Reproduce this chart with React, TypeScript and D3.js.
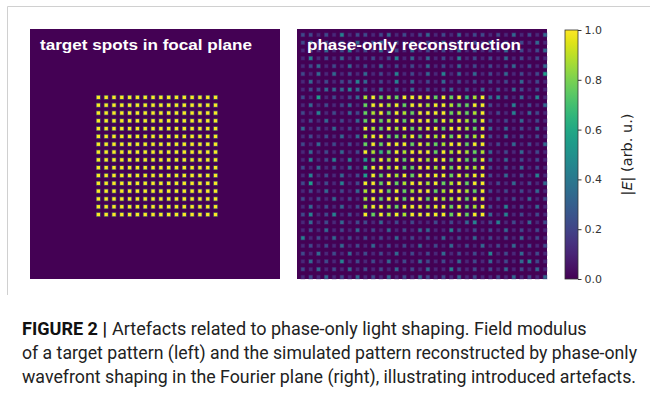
import { useEffect, useRef } from "react";
import * as d3 from "d3";

// 64x64 pixel field, spots sit on every other pixel -> 32x32 spot grid
const pixelCount = 64;

// target pattern: 16x16 spots of |E| = 1 in the centre of the spot grid
const targetSpots = [8, 9, 10, 11, 12, 13, 14, 15, 16, 17, 18, 19, 20, 21, 22, 23];
const targetValue = 1.0;

// phase-only reconstruction, |E| per spot in ninths (0..9 -> 0..1)
const reconLevels = [
  "22121412" + "21231212" + "31213122" + "12131213",
  "23121213" + "12312121" + "21312121" + "31212131",
  "12131241" + "21312131" + "21213121" + "21312123",
  "14121312" + "12124131" + "31214121" + "21312121",
  "12312131" + "21312121" + "31213121" + "21231213",
  "21313121" + "31214121" + "31413131" + "21312125",
  "13121224" + "31214131" + "21312121" + "21213121",
  "12233343" + "21312131" + "21231213" + "12132121",
  "21512123" + "89787999" + "97979689" + "34213141",
  "13121231" + "79989799" + "89987799" + "21141213",
  "21412132" + "78979879" + "99978789" + "12141321",
  "12131213" + "79789799" + "97989879" + "21213121",
  "31213121" + "98798978" + "99799879" + "31312131",
  "12121313" + "89977897" + "98979789" + "21312121",
  "21312121" + "79799979" + "87899799" + "12131213",
  "13121312" + "98679899" + "97989878" + "31213121",
  "14124141" + "57989799" + "89979779" + "31312121",
  "21312131" + "69989779" + "98979889" + "21213121",
  "14121312" + "59798979" + "99979899" + "21312141",
  "25121412" + "99797899" + "89789799" + "12131213",
  "12131213" + "89979789" + "97899879" + "21212131",
  "21213121" + "89799799" + "79889799" + "12121312",
  "13121312" + "89987999" + "89979789" + "21412131",
  "24124121" + "97989899" + "99979799" + "31412121",
  "13121312" + "21312121" + "12121341" + "24121312",
  "12131213" + "12131213" + "31142121" + "21312121",
  "41213121" + "21213121" + "21312131" + "21213121",
  "12121312" + "13121213" + "12131213" + "12131212",
  "21312131" + "21213121" + "21312121" + "41213121",
  "13121412" + "12131213" + "21213121" + "31213421",
  "21312131" + "21213121" + "31142121" + "21312131",
  "12131213" + "12131213" + "21213121" + "12131213",
];

const colorbarTicks = [0, 0.2, 0.4, 0.6, 0.8, 1.0];

const panelTitles = ["target spots in focal plane", "phase-only reconstruction"];

const captionLead = "FIGURE 2 |";
const captionLines = [
  "Artefacts related to phase-only light shaping. Field modulus",
  "of a target pattern (left) and the simulated pattern reconstructed by phase-only",
  "wavefront shaping in the Fourier plane (right), illustrating introduced artefacts.",
];

export default function App() {
  const svgRef = useRef(null);

  useEffect(() => {
    const svg = d3.select(svgRef.current);
    svg.selectAll("*").remove();

    const width = 650;
    const height = 400;
    svg.attr("width", width).attr("height", height);

    svg.append("rect").attr("width", width).attr("height", height).attr("fill", "white");

    // figure frame
    svg
      .append("path")
      .attr("d", "M7.5,295 L7.5,6.5 L650,6.5")
      .attr("fill", "none")
      .attr("stroke", "#d0d0d0")
      .attr("stroke-width", 1);

    const panelSize = 250;
    const panels = [
      { x0: 30, y0: 29, titleW: 212 },
      { x0: 297, y0: 29, titleW: 214 },
    ];

    const color = (v) => d3.interpolateViridis(Math.max(0, Math.min(1, v)));

    const drawPanel = (p, spots, title) => {
      const x = d3.scaleLinear().domain([0, pixelCount]).range([p.x0, p.x0 + panelSize]);
      const y = d3.scaleLinear().domain([0, pixelCount]).range([p.y0, p.y0 + panelSize]);
      const px = x(1) - x(0);

      const g = svg.append("g");
      g.append("rect")
        .attr("x", p.x0)
        .attr("y", p.y0)
        .attr("width", panelSize)
        .attr("height", panelSize)
        .attr("fill", color(0));

      const s = px * 0.85;
      // soft edge (image interpolation)
      g.selectAll("rect.halo")
        .data(spots)
        .enter()
        .append("rect")
        .attr("class", "halo")
        .attr("x", (d) => x(2 * d.i + 1.5) - px * 0.6)
        .attr("y", (d) => y(2 * d.j + 1.5) - px * 0.6)
        .attr("width", px * 1.2)
        .attr("height", px * 1.2)
        .attr("fill", (d) => color(d.v * 0.7))
        .attr("opacity", 0.45);

      g.selectAll("rect.spot")
        .data(spots)
        .enter()
        .append("rect")
        .attr("class", "spot")
        .attr("x", (d) => x(2 * d.i + 1.5) - s / 2)
        .attr("y", (d) => y(2 * d.j + 1.5) - s / 2)
        .attr("width", s)
        .attr("height", s)
        .attr("fill", (d) => color(d.v));

      g.append("text")
        .attr("x", p.x0 + 10)
        .attr("y", p.y0 + 20.5)
        .attr("fill", "white")
        .attr("font-family", "Liberation Sans, Arial, sans-serif")
        .attr("font-weight", "bold")
        .attr("font-size", 15.5)
        .attr("textLength", p.titleW)
        .attr("lengthAdjust", "spacingAndGlyphs")
        .text(title);
    };

    const targetData = [];
    targetSpots.forEach((j) =>
      targetSpots.forEach((i) => targetData.push({ i, j, v: targetValue }))
    );
    const reconData = [];
    reconLevels.forEach((row, j) =>
      row.split("").forEach((c, i) => {
        const v = +c / 9;
        if (v > 0) reconData.push({ i, j, v });
      })
    );

    drawPanel(panels[0], targetData, panelTitles[0]);
    drawPanel(panels[1], reconData, panelTitles[1]);

    // colorbar
    const cb = { x: 565, y0: 30, y1: 279, w: 13 };
    const defs = svg.append("defs");
    const grad = defs
      .append("linearGradient")
      .attr("id", "viridis")
      .attr("x1", 0)
      .attr("y1", 1)
      .attr("x2", 0)
      .attr("y2", 0);
    d3.range(0, 1.0001, 0.05).forEach((t) => {
      grad.append("stop").attr("offset", t).attr("stop-color", d3.interpolateViridis(t));
    });
    svg
      .append("rect")
      .attr("x", cb.x)
      .attr("y", cb.y0)
      .attr("width", cb.w)
      .attr("height", cb.y1 - cb.y0)
      .attr("fill", "url(#viridis)")
      .attr("stroke", "#333")
      .attr("stroke-width", 0.8);

    const cbScale = d3.scaleLinear().domain([0, 1]).range([cb.y1, cb.y0]);
    const cbAxis = d3
      .axisRight(cbScale)
      .tickValues(colorbarTicks)
      .tickFormat(d3.format(".1f"))
      .tickSize(3.5)
      .tickPadding(3);
    svg
      .append("g")
      .attr("transform", `translate(${cb.x + cb.w}, 0)`)
      .call(cbAxis)
      .call((g) => g.select(".domain").remove())
      .call((g) => g.selectAll("line").attr("stroke", "#333"))
      .call((g) =>
        g
          .selectAll("text")
          .attr("fill", "#333")
          .attr("font-family", "DejaVu Sans, sans-serif")
          .attr("font-size", 11)
      );

    const cbLabel = svg
      .append("text")
      .attr("transform", `translate(632, ${(cb.y0 + cb.y1) / 2}) rotate(-90)`)
      .attr("text-anchor", "middle")
      .attr("fill", "#222")
      .attr("font-family", "DejaVu Sans, sans-serif")
      .attr("font-size", 14.5);
    cbLabel.append("tspan").text("|");
    cbLabel.append("tspan").attr("font-style", "italic").text("E");
    cbLabel.append("tspan").text("| (arb. u.)");

    // caption
    const capFont = "Roboto, Liberation Sans, sans-serif";
    svg
      .append("text")
      .attr("x", 22)
      .attr("y", 335)
      .attr("font-family", capFont)
      .attr("font-weight", "bold")
      .attr("font-size", 18)
      .attr("fill", "#111")
      .attr("textLength", 85)
      .attr("lengthAdjust", "spacingAndGlyphs")
      .text(captionLead);

    const capRows = [
      { x: 112, y: 335, w: null },
      { x: 22, y: 359, w: 615 },
      { x: 22, y: 383, w: 614 },
    ];
    captionLines.forEach((line, k) => {
      const t = svg
        .append("text")
        .attr("x", capRows[k].x)
        .attr("y", capRows[k].y)
        .attr("font-family", capFont)
        .attr("font-size", 18)
        .attr("fill", "#222")
        .text(line);
      if (capRows[k].w) {
        t.attr("textLength", capRows[k].w).attr("lengthAdjust", "spacingAndGlyphs");
      }
    });
  }, []);

  return (
    <svg
      ref={svgRef}
      style={{ position: "absolute", left: 0, top: 0, display: "block" }}
    ></svg>
  );
}
